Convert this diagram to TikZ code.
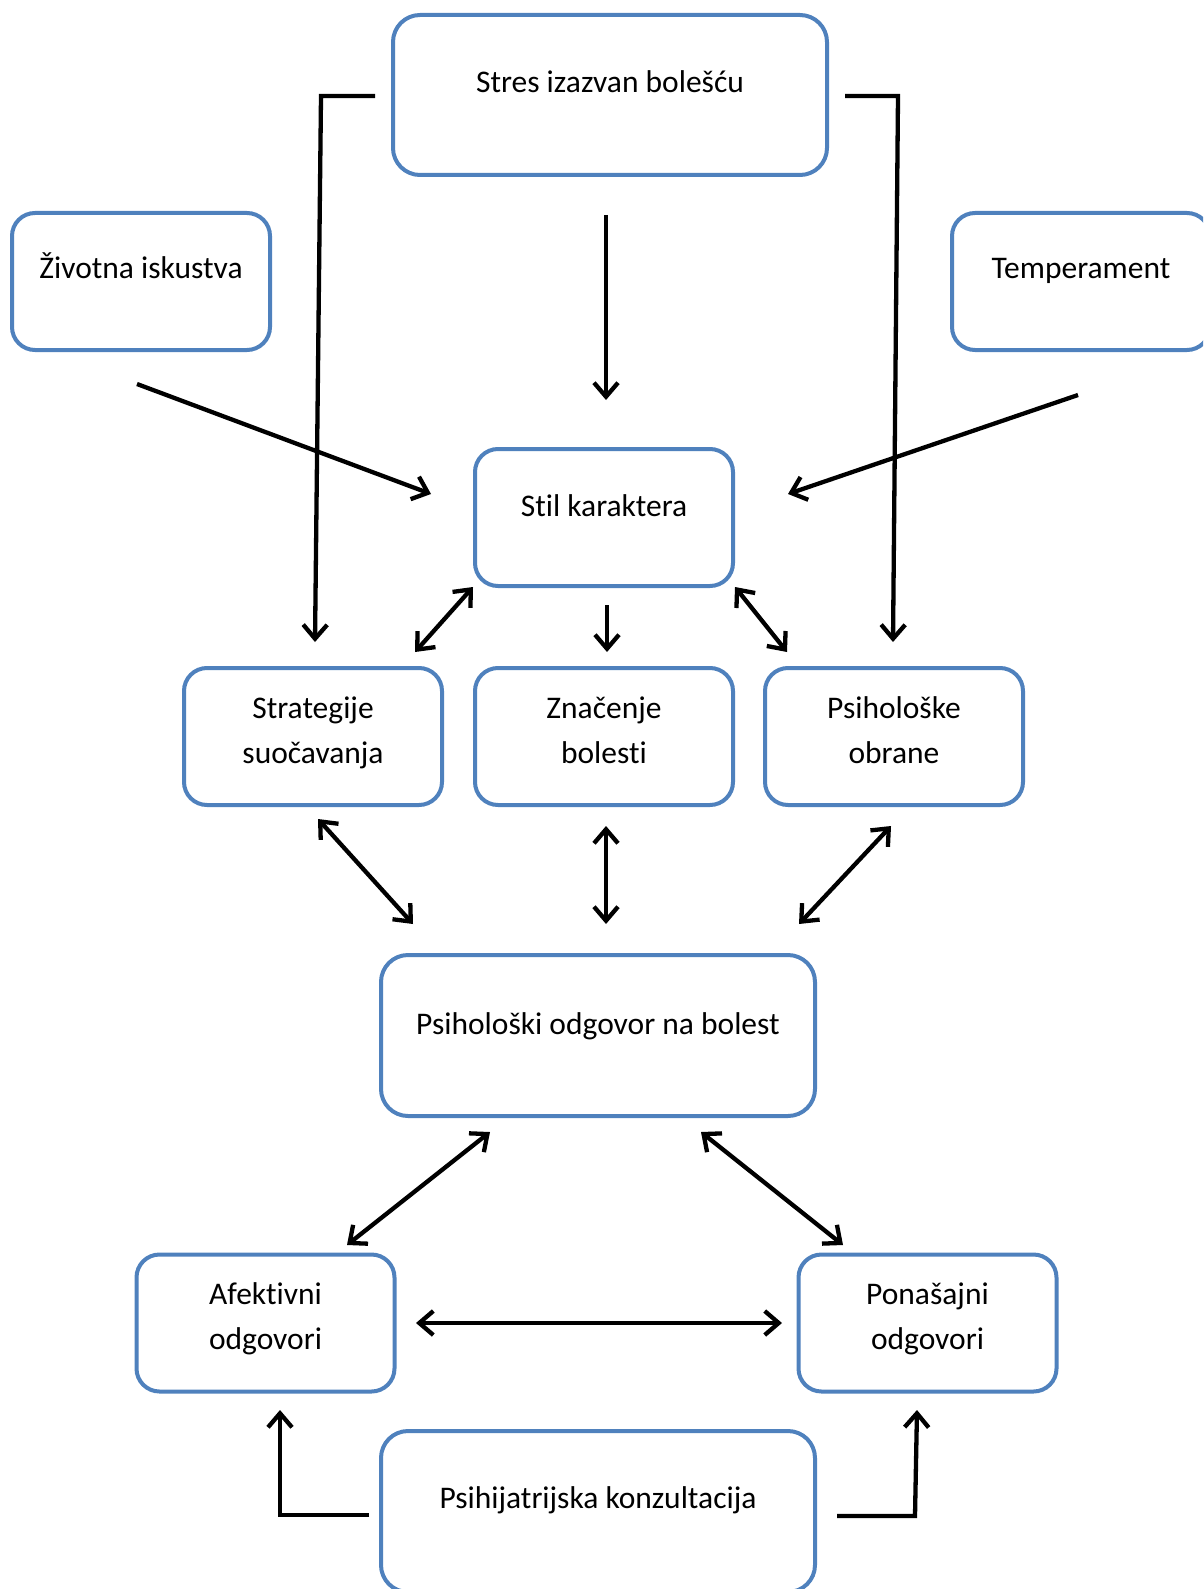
\documentclass[tikz,border=0pt]{standalone}
\usepackage{fontspec}
\setmainfont{Carlito}[Ligatures=NoCommon]
\usetikzlibrary{arrows.meta}
\definecolor{boxblue}{HTML}{4F81BD}
\begin{document}
\begin{tikzpicture}[x=1pt,y=-1pt,
  box/.style={draw=boxblue, line width=4pt, fill=white, inner sep=0pt, rectangle},
  smallbox/.style={box, minimum width=258pt, minimum height=137pt, rounded corners=23pt},
  bigbox/.style={box, minimum width=434pt, minimum height=160pt, rounded corners=27pt},
  lbl/.style={anchor=base, font=\fontsize{31.5}{45}\selectfont, align=center, inner sep=0pt},
  tipb/.tip={Straight Barb[length=14pt,width=24pt]},
  conn/.style={line width=4.3pt, -tipb},
  both/.style={line width=4.3pt, tipb-tipb}]
\useasboundingbox (0,0) rectangle (1203,1589);
\begin{scope}
\clip (0,0) rectangle (1203,1589);
% boxes
\node[bigbox] (stres) at (610,95) {};
\node[smallbox] (zivot) at (141,281.5) {};
\node[smallbox] (temp) at (1081,281.5) {};
\node[smallbox] (stil) at (604,517.5) {};
\node[smallbox] (strat) at (313,736.5) {};
\node[smallbox] (znac) at (604,736.5) {};
\node[smallbox] (obr) at (894,736.5) {};
\node[bigbox, minimum height=161pt] (odg) at (598,1035.5) {};
\node[smallbox] (afek) at (265.5,1323) {};
\node[smallbox] (pona) at (927.5,1323) {};
\node[bigbox, minimum height=161pt] (kons) at (598,1511.5) {};
% labels (base = baseline of the last line)
\node[lbl] (stres-t) at (610,93) {Stres izazvan bolešću};
\node[lbl] (zivot-t) at (141,279) {Životna iskustva};
\node[lbl] (temp-t) at (1081,279) {Temperament};
\node[lbl] (stil-t) at (604,516) {Stil karaktera};
\node[lbl] (strat-t) at (313,763) {Strategije\\suočavanja};
\node[lbl] (znac-t) at (604,763) {Značenje\\bolesti};
\node[lbl] (obr-t) at (894,763) {Psihološke\\obrane};
\node[lbl] (odg-t) at (598,1034) {Psihološki odgovor na bolest};
\node[lbl] (afek-t) at (265.5,1349) {Afektivni\\odgovori};
\node[lbl] (pona-t) at (927.5,1349) {Ponašajni\\odgovori};
\node[lbl] (kons-t) at (598,1508) {Psihijatrijska konzultacija};
\end{scope}
% connector end points
\coordinate (a1s) at (375,96);   \coordinate (a1c) at (321,96);  \coordinate (a1e) at (315,642);
\coordinate (a2s) at (845,96);   \coordinate (a2c) at (898,96);  \coordinate (a2e) at (893,642);
\coordinate (a3s) at (606,215);  \coordinate (a3e) at (606,400);
\coordinate (a4s) at (137,384);  \coordinate (a4e) at (431,494);
\coordinate (a5s) at (1078,395); \coordinate (a5e) at (788,494);
\coordinate (a6s) at (473,587);  \coordinate (a6e) at (415,652);
\coordinate (a7s) at (607,605);  \coordinate (a7e) at (607,652);
\coordinate (a8s) at (735,587);  \coordinate (a8e) at (787,652);
\coordinate (a9s) at (318,819);  \coordinate (a9e) at (413,924);
\coordinate (a10s) at (606,826); \coordinate (a10e) at (606,924);
\coordinate (a11s) at (891,826); \coordinate (a11e) at (799,924);
\coordinate (a12s) at (490,1132); \coordinate (a12e) at (347,1245);
\coordinate (a13s) at (701,1132); \coordinate (a13e) at (843,1245);
\coordinate (a14s) at (416,1323); \coordinate (a14e) at (782,1323);
\coordinate (a15s) at (369,1515); \coordinate (a15c) at (280,1515); \coordinate (a15e) at (280,1410);
\coordinate (a16s) at (837,1516); \coordinate (a16c) at (915,1516); \coordinate (a16e) at (917,1410);
% connectors
\draw[conn] (a1s) -- (a1c) -- (a1e);
\draw[conn] (a2s) -- (a2c) -- (a2e);
\draw[conn] (a3s) -- (a3e);
\draw[conn] (a4s) -- (a4e);
\draw[conn] (a5s) -- (a5e);
\draw[both] (a6s) -- (a6e);
\draw[conn] (a7s) -- (a7e);
\draw[both] (a8s) -- (a8e);
\draw[both] (a9s) -- (a9e);
\draw[both] (a10s) -- (a10e);
\draw[both] (a11s) -- (a11e);
\draw[both] (a12s) -- (a12e);
\draw[both] (a13s) -- (a13e);
\draw[both] (a14s) -- (a14e);
\draw[conn] (a15s) -- (a15c) -- (a15e);
\draw[conn] (a16s) -- (a16c) -- (a16e);
\end{tikzpicture}
\end{document}
